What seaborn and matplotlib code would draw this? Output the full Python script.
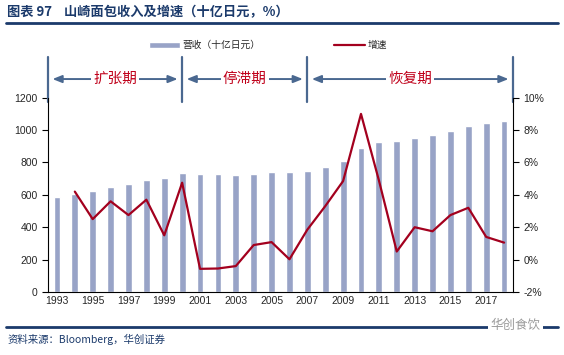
import numpy as np
import pandas as pd
import matplotlib
matplotlib.use('Agg')
import matplotlib.pyplot as plt
import matplotlib.transforms as mtransforms
from matplotlib.ticker import FuncFormatter
import seaborn as sns

# data
years = list(range(1993, 2019))
revenue = [584, 608, 625, 646, 668, 691, 701, 734, 730, 726, 724, 730, 738,
           738, 748, 773, 812, 887, 928, 934, 950, 969, 996, 1027, 1041, 1054]
growth_years = list(range(1994, 2019))
growth = [4.2, 2.5, 3.6, 2.75, 3.7, 1.5, 4.75, -0.57, -0.55, -0.4, 0.9, 1.08,
          0.02, 1.85, 3.3, 4.85, 9.0, 4.9, 0.5, 2.0, 1.75, 2.75, 3.2, 1.4, 1.05]
phases = ['扩张期', '停滞期', '恢复期']

bar_color = '#98A3C7'
line_color = '#A3001E'
navy = '#1B3A6B'
arrow_color = '#4A6890'
red_text = '#C0001A'

sns.set_style('white')
plt.rcParams['font.family'] = ['Liberation Sans', 'Noto Sans CJK SC', 'DejaVu Sans']
plt.rcParams['axes.unicode_minus'] = False

df = pd.DataFrame({'year': [str(y) for y in years], 'revenue': revenue})
df_g = pd.DataFrame({'pos': [years.index(y) for y in growth_years], 'growth': growth})

fig = plt.figure(figsize=(5.64, 3.55), dpi=100)
ax = fig.add_axes([0.0851, 0.1775, 0.8245, 0.5473])

sns.barplot(data=df, x='year', y='revenue', color=bar_color, width=0.38,
            saturation=1, ax=ax, label='营收（十亿日元）')
ax.set_ylim(0, 1200)
ax.set_yticks(range(0, 1201, 200))
ax.set_xlim(-0.5, len(years) - 0.5)
ax.set_xlabel('')
ax.set_ylabel('')

# x ticks: marks at every second slot boundary, labels on odd years
ax.set_xticks(np.arange(-0.5, len(years), 2))
ax.set_xticklabels([])
ax.set_xticks(range(0, len(years), 2), minor=True)
ax.set_xticklabels([str(y) for y in years[::2]], minor=True)
ax.tick_params(axis='x', which='major', direction='out', length=4, width=0.8, color='black')
ax.tick_params(axis='x', which='minor', length=0, labelsize=7.5, pad=3)
ax.tick_params(axis='y', direction='out', length=4, width=0.8, color='black', labelsize=7.5)

ax2 = ax.twinx()
sns.lineplot(data=df_g, x='pos', y='growth', color=line_color, lw=1.6, ax=ax2, label='增速')
ax2.set_ylim(-2, 10)
ax2.set_yticks(range(-2, 11, 2))
ax2.yaxis.set_major_formatter(FuncFormatter(lambda v, p: f'{v:.0f}%'))
ax2.set_ylabel('')
ax2.set_xlabel('')
ax2.tick_params(axis='y', direction='out', length=4, width=0.8, color='black', labelsize=7.5)
ax2.set_xlim(-0.5, len(years) - 0.5)

for a in (ax, ax2):
    a.spines['top'].set_visible(False)
    for s in ('left', 'right', 'bottom'):
        a.spines[s].set_color('black')
        a.spines[s].set_linewidth(0.8)
    a.grid(False)
ax.spines['right'].set_visible(False)
ax2.spines['left'].set_visible(False)
ax2.spines['bottom'].set_visible(False)

# legend
h1, l1 = ax.get_legend_handles_labels()
h2, l2 = ax2.get_legend_handles_labels()
if ax2.get_legend():
    ax2.get_legend().remove()
if ax.get_legend():
    ax.get_legend().remove()
fig.legend(h1 + h2, l1 + l2, loc='center', bbox_to_anchor=(0.475, 0.873), ncol=2,
           frameon=False, fontsize=7, handlelength=3.2, handleheight=0.6,
           columnspacing=7.5, handletextpad=0.3)

# phase annotations above the plot
trans = mtransforms.blended_transform_factory(ax.transData, ax.transAxes)
bounds_pos = [-0.5, years.index(2000), years.index(2007), len(years) - 0.5]
for xb in bounds_pos:
    ax.plot([xb, xb], [0.978, 1.212], transform=trans, color=arrow_color,
            lw=1.6, clip_on=False)
for i, name in enumerate(phases):
    x0, x1 = bounds_pos[i] + 0.25, bounds_pos[i + 1] - 0.25
    ax.annotate('', xy=(x1, 1.096), xytext=(x0, 1.096), xycoords=trans, textcoords=trans,
                arrowprops=dict(arrowstyle='<|-|>,head_length=0.55,head_width=0.22',
                                color=arrow_color, lw=1.4, shrinkA=0, shrinkB=0))
    ax.text((x0 + x1) / 2, 1.096, name, transform=trans, ha='center', va='center',
            fontsize=10.5, color=red_text, family=['Noto Sans CJK SC'],
            bbox=dict(boxstyle='square,pad=0.15', fc='white', ec='none'), zorder=5)

# title, rules, source
fig.text(0.013, 0.966, '图表 97    山崎面包收入及增速（十亿日元，%）', ha='left', va='center',
         fontsize=9.5, fontweight='bold', color=navy,
         family=['Noto Sans CJK SC', 'DejaVu Sans'])
fig.add_artist(plt.Line2D([0.0106, 0.989], [0.935, 0.935], color=navy, lw=2))
fig.add_artist(plt.Line2D([0.0106, 0.989], [0.079, 0.079], color=navy, lw=2))
fig.text(0.014, 0.045, '资料来源：Bloomberg，华创证券', ha='left', va='center',
         fontsize=7.5, style='italic', color=navy,
         family=['Noto Sans CJK SC', 'DejaVu Sans'])
fig.text(0.87, 0.082, '华创食饮', ha='left', va='center', fontsize=9, color='#9A9A9A',
         family=['Noto Sans CJK SC'],
         bbox=dict(boxstyle='square,pad=0.2', fc='white', ec='none'))

fig.savefig('out.png', dpi=100)
